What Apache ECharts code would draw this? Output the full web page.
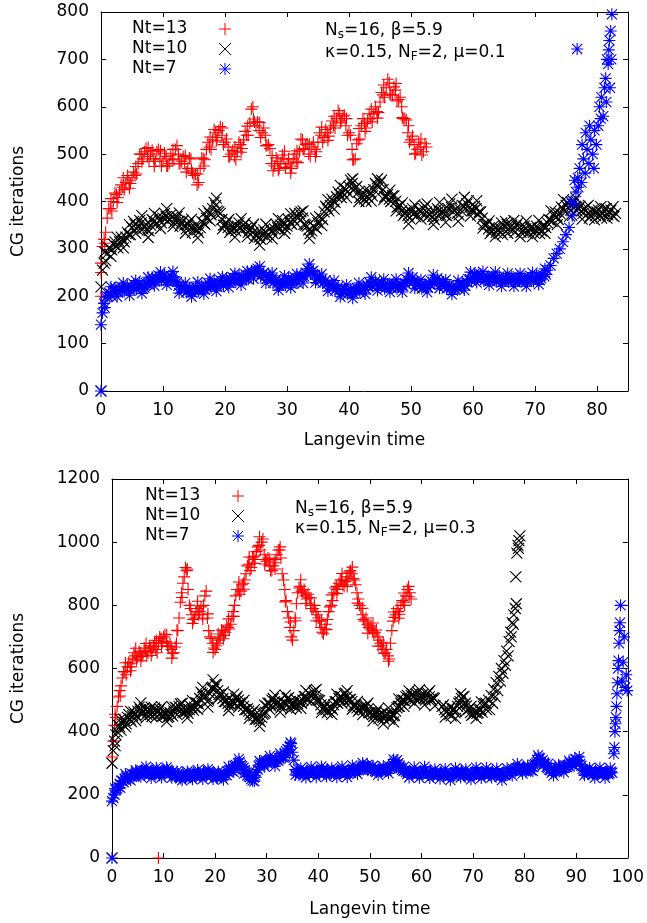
<!DOCTYPE html>
<html><head><meta charset="utf-8">
<script src="https://cdn.jsdelivr.net/npm/echarts@6/dist/echarts.min.js"></script>
<style>html,body{margin:0;padding:0;background:#fff}#c{width:647px;height:923px}</style>
</head><body><div id="c"></div>
<script>
// ---------- DATA ----------
const seriesNames = ['Nt=13', 'Nt=10', 'Nt=7'];
// Langevin-time sampling of the read-off arrays
const DT_A = 0.5, OFF_A = 0;      // "A": t = 0, 0.5, 1, ...
const DT_B = 0.5, OFF_B = 0.25;   // "B": t = 0.25, 0.75, ...
const DT_C = 1.0, OFF_C = 0.6;    // "C": t = 0.6, 1.6, ...

// Upper panel (mu = 0.1)
const top13A = [270,320,365,385,400,415,420,430,440,445,450,455,480,500,505,495,500,490,505,490,485,495,480,490,510,500,485,480,470,490,455,435,470,490,510,515,530,545,550,540,525,515,500,495,505,520,530,540,565,600,560,550,545,540,520,480,475,485,480,490,480,475,490,485,505,530,520,500,515,510,525,540,535,545,555,560,575,585,580,560,545,510,490,530,560,565,570,575,585,590,610,625,640,650,625,635,615,600,575,545,530,520,510,515,505,515];
const top13B = [305,335,385,380,418,408,435,425,455,438,462,458,500,490,512,485,508,485,510,475,502,475,498,488,518,480,495,462,492,460,458,440,492,488,525,510,552,535,558,520,532,495,508,488,525,512,548,540,595,568,568,535,555,518,512,465,492,470,498,472,490,470,500,482,532,512,522,495,525,505,545,525,552,538,570,555,592,570,582,540,540,488,522,532,575,555,585,568,600,588,630,620,658,625,642,612,620,575,572,525,538,502,525,498,522];
const top13C = [312,406,398,450,428,474,484,514,474,507,475,510,480,497,466,458,475,536,528,555,495,515,504,559,574,567,518,497,466,506,460,507,510,521,495,557,529,580,566,575,488,554,548,595,576,646,627,649,577,560,500,532];
const top13Extra = [[0,200],[0,250]];
const top10A = [220,270,290,300,310,305,315,318,325,330,345,352,348,355,345,340,350,358,355,360,365,368,362,366,360,358,355,350,352,345,342,340,345,355,365,375,385,392,378,362,350,345,340,342,348,345,350,345,340,335,328,325,330,335,330,338,342,345,350,352,348,355,362,370,375,365,350,340,338,345,355,365,378,385,392,400,410,415,418,425,432,438,428,420,412,405,410,418,425,435,440,425,410,405,412,400,390,380,375,370,378,375,372,380,385,378,372,368,375,380,378,372,385,388,380,375,382,390,395,388,380,385,378,365,350,342,338,345,340,335,348,352,345,340,350,345,338,342,335,345,340,342,338,350,355,360,370,368,375,385,392,385,395,390,385,380,385,375,370,380,378,370,375,385,378,370,375];
const top10B = [255,275,302,298,315,302,325,315,335,330,358,342,360,342,352,338,362,350,368,355,375,358,372,355,368,348,360,342,358,335,350,335,358,352,380,372,398,380,375,350,355,335,348,338,355,340,355,335,345,322,335,320,340,325,342,332,352,340,360,342,362,352,375,365,378,352,348,332,348,342,368,362,390,380,405,398,420,408,428,420,445,425,432,408,415,400,422,412,438,430,445,410,415,400,412,388,392,370,380,365,385,368,382,375,390,368,378,362,385,372,382,370,395,378,385,372,392,385,402,380,390,372,378,352,352,332,348,335,345,330,358,342,350,335,355,335,348,332,345,335,348,332,348,345,362,358,378,362,388,380,398,382,400,380,390,375,388,365,382,370,382,365,385,372,382,368];
const top10C = [293,284,325,302,351,333,370,324,375,343,385,347,376,333,363,323,375,359,407,342,362,325,364,326,352,308,352,321,364,333,374,353,380,322,365,349,404,384,434,408,448,400,424,401,448,404,424,380,397,353,393,363,395,351,398,356,405,358,409,369,402,344,359,326,355,333,360,326,359,326,360,333,380,351,404,369,407,363,392,361,389,365,389];
const top10Extra = [[0,0]];
const top7A = [140,185,200,205,210,212,215,213,218,215,220,218,222,220,218,225,232,235,238,236,240,238,236,240,232,222,218,215,212,214,212,216,215,218,220,222,226,224,228,226,230,232,235,233,236,238,240,238,245,250,255,250,245,243,240,236,232,228,226,228,230,232,234,232,236,240,250,255,252,245,238,234,230,226,222,220,216,213,212,210,209,210,212,214,216,218,222,225,228,226,224,222,220,222,225,222,220,222,228,234,236,232,226,222,220,222,225,230,234,232,226,222,220,218,216,218,222,226,230,236,240,244,242,238,236,238,240,236,238,235,236,234,236,235,237,234,236,235,238,236,238,240,238,242,255];
const top7B = [165,198,208,200,218,208,220,210,222,212,226,215,228,215,228,225,240,232,244,234,245,232,243,232,230,215,222,208,218,208,220,210,222,214,228,218,232,220,234,222,238,228,240,230,244,234,246,236,252,248,258,242,250,236,244,228,236,222,234,224,238,226,240,228,244,242,258,248,254,236,242,228,234,220,226,212,220,206,216,204,215,205,218,208,222,214,230,220,232,220,228,216,226,218,228,216,226,222,236,230,240,224,230,216,226,218,232,226,238,224,230,216,224,212,222,216,228,222,236,232,248,238,246,232,242,232,244,230,242,230,240,230,241,230,242,230,240,231,243,231,244,234,245,246];
const top7C = [176,220,199,228,202,233,206,240,222,251,224,252,207,228,199,230,205,237,211,241,219,248,224,253,237,263,228,249,213,243,218,247,228,268,229,247,211,233,199,224,196,228,205,240,212,236,209,236,209,249,217,235,209,245,217,235,204,233,213,251,229,252,224,251,221,248,221,248,221,250,225,258];
const top7Extra = [[0,0],[72.5,265],[73,280],[73.5,290],[74,300],[74.5,315],[75,330],[75.5,345],[76,370],[76.3,395],[76.6,420],[76.9,450],[77.2,470],[77.5,440],[77.8,490],[78.1,460],[78.4,510],[78.7,480],[79,530],[79.3,500],[79.6,550],[79.9,520],[80.2,560],[80.4,600],[80.7,620],[81,580],[81.2,640],[81.4,660],[81.6,700],[81.8,690],[82,740],[82.2,760],[82.4,795],[82.1,640],[76.8,722],
  [77.0,430],[77.6,520],[78.2,545],[78.8,560],[79.5,470],[80.6,575],[81.5,610],[82.3,700],[81.9,720],[75.8,400],[76.4,445]];

// Lower panel (mu = 0.3)
const bot13A = [320,420,480,530,570,590,605,615,630,640,635,650,645,655,650,665,670,660,680,695,700,685,670,660,650,680,760,840,890,910,800,770,760,790,780,770,830,760,700,680,660,680,700,720,715,730,740,780,830,850,845,870,900,930,920,955,970,990,1000,960,940,925,910,935,960,975,900,850,780,730,690,760,840,860,840,830,835,800,790,780,760,730,710,740,780,800,840,860,870,880,860,880,905,900,880,840,800,770,750,740,725,720,715,700,680,660,650,640,680,750,770,780,800,810,830,860,820];
const bot13B = [370,445,510,545,590,580,620,605,650,628,655,638,665,640,672,655,682,650,700,682,708,672,680,648,668,720,810,870,920,850,790,755,780,770,795,800,845,720,695,665,672,690,722,705,735,725,765,800,850,835,865,880,925,910,950,945,985,975,1010,945,950,910,925,945,975,950,880,815,760,700,720,805,855,845,850,820,825,790,800,770,750,715,725,755,795,815,855,850,880,865,875,890,910,885,865,820,790,755,760,730,735,712,722,690,672,648,660,630,720,762,790,772,815,800,850,840];
const bot13C = [455,513,618,593,664,624,679,641,689,671,707,633,721,825,915,743,813,757,773,651,709,694,757,765,874,851,953,933,1017,931,947,915,985,811,747,751,881,806,823,751,751,723,833,837,901,860,921,807,791,712,744,671,683,623,779,759,839,827];
const bot13Extra = [[9,0]];
const bot10A = [300,370,400,415,425,435,445,440,450,455,465,470,462,468,460,455,462,470,465,458,450,455,448,455,465,475,480,470,460,465,470,475,478,490,505,520,510,495,520,540,550,530,515,505,495,490,485,495,505,500,490,480,470,465,460,450,440,438,445,458,480,490,500,495,490,485,480,490,505,495,485,480,488,495,500,510,505,515,525,515,500,485,475,470,465,475,485,495,505,510,520,510,500,495,485,475,470,475,480,470,460,455,460,450,455,445,450,455,445,450,465,480,490,500,510,505,515,510,520,510,515,505,520,510,500,505,null,null,480,470,465,455,470,460,480,495,510,490,470,460,455,465,460,470,480,490];
const bot10B = [340,390,420,405,440,425,455,432,462,448,478,460,475,455,470,448,475,460,472,450,462,445,460,450,478,468,488,462,470,458,480,468,492,488,525,508,515,500,538,535,548,518,520,495,500,480,495,490,512,490,492,470,472,455,462,440,450,432,455,462,490,482,505,485,495,475,492,490,508,485,490,475,495,490,512,500,520,512,530,502,498,472,478,460,475,470,495,490,512,505,522,500,502,482,485,465,478,468,482,460,462,448,462,442,458,440,458,440,455,452,475,480,500,498,515,500,520,505,525,505,518,500,522,502,508,null,null,null,485,462,470,450,472,465,490,505,512,482,472,452,462,458,468,462,488];
const bot10C = [356,440,415,464,435,491,444,478,447,479,432,479,454,490,444,498,471,540,478,564,505,525,467,519,478,500,442,470,417,484,470,516,462,515,471,503,474,531,495,534,461,491,455,519,490,530,471,496,454,490,434,473,425,475,431,504,480,529,490,533,485,530,482,null,446,479,442,520,464,480,442,494,470];
const bot10Extra = [[0,0],[73,500],[73.5,515],[74,535],[74.5,555],[75,575],[75.5,600],[76,625],[76.5,655],[77,685],[77.3,715],[77.6,745],[77.9,770],[78.2,790],[78.4,805],[78.3,890],[78.5,965],[78.7,990],[78.9,1005],[79.1,1020],[78.8,980],
  [73.2,470],[73.8,490],[74.3,510],[74.8,530],[75.3,560],[75.8,585],[76.3,610],[76.8,640],[77.4,700],[77.8,740]];
const bot7A = [180,200,220,235,245,250,255,260,265,262,268,272,270,275,272,268,270,272,268,270,274,272,275,270,265,260,258,262,260,258,262,265,262,265,262,265,268,265,268,265,262,258,260,262,265,272,280,285,295,300,295,285,270,258,250,255,270,290,300,305,302,308,310,305,310,315,320,330,345,355,335,280,270,268,272,270,268,272,275,272,270,275,278,274,270,268,272,270,274,276,272,270,275,278,276,280,282,285,290,295,285,278,275,278,280,276,278,282,285,295,305,300,285,275,272,270,268,272,270,268,272,275,270,268,265,266,268,266,265,268,264,262,265,268,272,270,268,266,262,265,268,272,270,268,266,270,268,270,266,268,265,262,265,268,272,275,278,282,285,282,280,278,282,288,298,308,316,310,298,285,278,275,278,280,282,285,288,292,298,305,312,308,292,278,272,270,272,268,270,272,268,270,272,268,270];
const bot7B = [190,215,225,245,240,258,250,268,258,272,262,278,264,280,264,276,265,278,262,276,268,280,266,274,258,266,252,268,254,265,256,270,256,270,258,272,260,274,260,270,255,265,255,268,262,278,276,292,290,305,290,278,262,256,245,262,280,296,298,310,298,314,304,314,308,322,318,338,342,362,310,275,262,275,265,276,264,278,268,278,266,280,270,278,264,275,266,278,268,280,266,276,270,282,272,286,280,292,288,290,280,282,272,284,274,282,276,290,288,302,310,292,280,278,266,274,264,276,264,274,268,278,264,272,260,272,262,272,260,272,258,268,260,272,266,276,262,270,258,270,262,276,264,272,262,274,264,274,260,272,258,268,262,274,268,282,276,288,278,286,274,284,278,295,302,318,306,302,288,280,270,282,274,288,280,294,288,302,298,314,308,298,282,276,266,276,264,276,266,275,264,274,265,274];
const bot7C = [220,222,266,246,278,257,289,253,286,255,287,254,274,246,274,249,279,250,281,249,274,248,289,272,314,267,272,243,307,289,323,291,331,318,366,263,284,255,288,256,290,258,284,256,290,256,293,266,301,278,292,263,291,268,312,284,289,255,287,254,289,253,281,251,282,247,284,255,281,249,286,253,285,255,283,247,284,261,298,267,293,275,325,293,299,261,295,271,308,291,320,262,285,254,286,254,284];
const bot7Extra = [[0,0],[97.3,330],[97.4,350],[97.5,400],[97.6,425],[97.7,445],[97.8,480],[97.9,520],[98,555],[98.1,600],[98.2,625],[98.3,680],[98.4,720],[98.5,745],[98.6,800],[98.9,560],[99.1,620],[99.3,700],[99.5,540],[99.7,580],[99.9,530]];

const annTop = ['{n|N}{s|s}{n|=16, β=5.9}', '{n|κ=0.15, N}{s|F}{n|=2, μ=0.1}'];
const annBot = ['{n|N}{s|s}{n|=16, β=5.9}', '{n|κ=0.15, N}{s|F}{n|=2, μ=0.3}'];
const xName = 'Langevin time', yName = 'CG iterations';

// ---------- STYLE ----------
const FONT = 'DejaVu Sans';
const FS = 17;
const colors = ['#ff0000', '#000000', '#0000ff'];
const symbols = [
  'path://M0,5L10,5M5,0L5,10',
  'path://M0,0L10,10M0,10L10,0',
  'path://M0,5L10,5M5,0L5,10M0.8,0.8L9.2,9.2M0.8,9.2L9.2,0.8'
];
const sizes = [12, 11, 12];

function toPts(a, b, c, extra) {
  const pts = [];
  a.forEach((v, i) => { if (v !== null) pts.push([OFF_A + i * DT_A, v]); });
  b.forEach((v, i) => { if (v !== null) pts.push([OFF_B + i * DT_B, v]); });
  c.forEach((v, i) => { if (v !== null) pts.push([OFF_C + i * DT_C, v]); });
  return pts.concat(extra);
}

const axisLineStyle = { color: '#000', width: 1 };
function xAxes(grid, max, nameGap) {
  const base = {
    type: 'value', gridIndex: grid, min: 0, max: max, interval: 10,
    splitLine: { show: false },
    axisLine: { show: true, onZero: false, lineStyle: axisLineStyle },
    axisTick: { show: true, inside: true, length: 5, lineStyle: axisLineStyle }
  };
  return [
    Object.assign({}, base, {
      position: 'bottom',
      axisLabel: { color: '#000', fontFamily: FONT, fontSize: FS, margin: 11,
        formatter: v => (v % 10 === 0 ? String(v) : '') },
      name: xName, nameLocation: 'middle', nameGap: nameGap,
      nameTextStyle: { color: '#000', fontFamily: FONT, fontSize: FS }
    }),
    Object.assign({}, base, { position: 'top', axisLabel: { show: false } })
  ];
}
function yAxes(grid, max, interval, nameGap) {
  const base = {
    type: 'value', gridIndex: grid, min: 0, max: max, interval: interval,
    splitLine: { show: false },
    axisLine: { show: true, onZero: false, lineStyle: axisLineStyle },
    axisTick: { show: true, inside: true, length: 5, lineStyle: axisLineStyle }
  };
  return [
    Object.assign({}, base, {
      position: 'left',
      axisLabel: { color: '#000', fontFamily: FONT, fontSize: FS, margin: 12,
        formatter: v => String(v) },
      name: yName, nameLocation: 'middle', nameGap: nameGap, nameRotate: 90,
      nameTextStyle: { color: '#000', fontFamily: FONT, fontSize: FS }
    }),
    Object.assign({}, base, { position: 'right', axisLabel: { show: false } })
  ];
}

function mkSeries(k, grid, pts) {
  return {
    type: 'scatter', name: seriesNames[k],
    xAxisIndex: grid * 2, yAxisIndex: grid * 2,
    data: pts, symbol: symbols[k], symbolSize: sizes[k],
    itemStyle: { color: 'rgba(0,0,0,0)', borderColor: colors[k], borderWidth: 1.1, opacity: 1 },
    emphasis: { disabled: true }, animation: false, clip: false, large: false
  };
}

function legend(left, top) {
  return {
    orient: 'vertical', left: left, top: top, padding: 0, itemGap: 0,
    align: 'right', itemWidth: 12, itemHeight: 12, selectedMode: false,
    formatter: n => '{t|' + n + '}',
    textStyle: { color: '#000', fontFamily: FONT, fontSize: FS, lineHeight: 20,
      rich: { t: { width: 82, align: 'left', fontFamily: FONT, fontSize: FS, lineHeight: 20, color: '#000' } } },
    data: seriesNames.map((n, k) => ({
      name: n, icon: symbols[k],
      itemStyle: { color: 'rgba(0,0,0,0)', borderColor: colors[k], borderWidth: 1 }
    }))
  };
}

const rich = {
  n: { fontFamily: FONT, fontSize: FS, fill: '#000', lineHeight: 20, verticalAlign: 'middle' },
  s: { fontFamily: FONT, fontSize: 12, fill: '#000', lineHeight: 8, verticalAlign: 'bottom' }
};
function annText(x, y, txt) {
  return { type: 'text', left: x, top: y, silent: true,
    style: { text: txt, rich: rich, fill: '#000', font: FS + 'px ' + FONT } };
}

const chart = echarts.init(document.getElementById('c'), null, { renderer: 'canvas' });
chart.setOption({
  animation: false,
  backgroundColor: '#fff',
  grid: [
    { left: 101, top: 12, right: 19, height: 379 },
    { left: 112, top: 479, right: 19, height: 379 }
  ],
  xAxis: xAxes(0, 85, 41).concat(xAxes(1, 100, 43)),
  yAxis: yAxes(0, 800, 100, 74).concat(yAxes(1, 1200, 200, 85)),
  legend: [legend(132, 19), legend(145, 486)],
  graphic: [
    annText(325, 22, annTop[0]), annText(325, 44, annTop[1]),
    annText(295, 500, annBot[0]), annText(295, 520, annBot[1])
  ],
  series: [
    mkSeries(0, 0, toPts(top13A, top13B, top13C, top13Extra)),
    mkSeries(1, 0, toPts(top10A, top10B, top10C, top10Extra)),
    mkSeries(2, 0, toPts(top7A, top7B, top7C, top7Extra)),
    mkSeries(0, 1, toPts(bot13A, bot13B, bot13C, bot13Extra)),
    mkSeries(1, 1, toPts(bot10A, bot10B, bot10C, bot10Extra)),
    mkSeries(2, 1, toPts(bot7A, bot7B, bot7C, bot7Extra))
  ]
});
</script></body></html>
